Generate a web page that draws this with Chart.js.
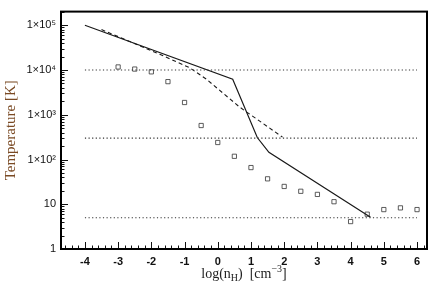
<!DOCTYPE html>
<html>
<head>
<meta charset="utf-8">
<script src="https://cdn.jsdelivr.net/npm/chart.js@4.4.1/dist/chart.umd.min.js"></script>
<style>
  html, body { margin: 0; padding: 0; background: #fff; }
  #wrap { width: 436px; height: 299px; position: relative; }
</style>
</head>
<body>
<div id="wrap"><canvas id="chart"></canvas></div>
<script>
// log(nH) vs temperature
const solidX = [-4, 0.45, 1.19, 1.54, 4.6];
const solidT = [1.0e5, 6.2e3, 310, 145, 5.1];

const dashedX = [-3.5, -1.75, -0.85, -0.35, 0.65, 1.95];
const dashedT = [8.0e4, 2.25e4, 1.13e4, 6.3e3, 1.5e3, 316];

const squareX = [-3, -2.5, -2, -1.5, -1, -0.5, 0, 0.5, 1, 1.5, 2, 2.5, 3, 3.5, 4, 4.5, 5, 5.5, 6];
const squareT = [11700, 10500, 9100, 5500, 1880, 575, 240, 118, 66, 37, 25, 19.5, 16.6, 11.4, 4.1, 6.0, 7.6, 8.3, 7.6];

const refLevels = [1e4, 300, 5];
const refRange = [-4, 6];

const xTicks = [-4, -3, -2, -1, 0, 1, 2, 3, 4, 5, 6];
const yTicks = [1, 10, 100, 1000, 10000, 100000];
const yTickLabels = ['1', '10', '1\u00d710\u00b2', '1\u00d710\u00b3', '1\u00d710\u2074', '1\u00d710\u2075'];

const INK = '#1a1a1a';
const pts = (xs, ys) => xs.map((x, i) => ({ x, y: ys[i] }));

const datasets = [];
refLevels.forEach(t => {
  datasets.push({
    data: refRange.map(x => ({ x, y: t })),
    borderColor: '#333',
    borderWidth: 1.1,
    borderDash: [1.2, 2.4],
    pointRadius: 0,
    showLine: true,
  });
});
datasets.push({
  data: pts(solidX, solidT),
  borderColor: INK,
  borderWidth: 1.2,
  pointRadius: 0,
  showLine: true,
});
datasets.push({
  data: pts(dashedX, dashedT),
  borderColor: INK,
  borderWidth: 1.1,
  borderDash: [4, 3],
  pointRadius: 0,
  showLine: true,
});
datasets.push({
  data: pts(squareX, squareT),
  pointStyle: 'rect',
  pointRadius: 3,
  pointBorderWidth: 0.8,
  pointBorderColor: '#333',
  pointBackgroundColor: 'rgba(0,0,0,0)',
  showLine: false,
});

// inward ticks, frame and the x title with sub/superscripts
const frame = {
  id: 'frame',
  afterDraw(chart) {
    const { ctx, chartArea: a, scales: { x, y } } = chart;
    ctx.save();
    ctx.strokeStyle = '#111';
    ctx.lineWidth = 1;
    // y ticks
    for (let d = 0; d <= 5; d++) {
      for (let m = 1; m <= 9; m++) {
        const v = m * Math.pow(10, d);
        if (v > y.max) break;
        const py = Math.round(y.getPixelForValue(v)) + 0.5;
        const len = m === 1 ? 7 : 3.5;
        ctx.beginPath();
        ctx.moveTo(a.left, py);
        ctx.lineTo(a.left + len, py);
        ctx.stroke();
      }
    }
    // x ticks
    for (let i = -24; i <= 31; i++) {
      const v = i / 5;
      if (v < x.min || v > x.max) continue;
      const px = Math.round(x.getPixelForValue(v)) + 0.5;
      const len = i % 5 === 0 ? 7 : 3.5;
      ctx.beginPath();
      ctx.moveTo(px, a.bottom);
      ctx.lineTo(px, a.bottom - len);
      ctx.stroke();
    }
    // frame
    ctx.lineWidth = 2;
    ctx.strokeStyle = '#000';
    ctx.strokeRect(a.left, a.top, a.right - a.left, a.bottom - a.top);

    // x axis title: log(n_H) [cm^-3]
    const parts = [
      { t: 'log(n', s: 14, dy: 0 },
      { t: 'H', s: 10, dy: 3 },
      { t: ')  [cm', s: 14, dy: 0 },
      { t: '\u22123', s: 10, dy: -6 },
      { t: ']', s: 14, dy: 0 },
    ];
    ctx.fillStyle = '#222';
    ctx.textBaseline = 'alphabetic';
    let w = 0;
    parts.forEach(p => { ctx.font = p.s + 'px "Liberation Serif", serif'; w += ctx.measureText(p.t).width; });
    let cx = (a.left + a.right) / 2 - w / 2;
    const base = 278;
    parts.forEach(p => {
      ctx.font = p.s + 'px "Liberation Serif", serif';
      ctx.fillText(p.t, cx, base + p.dy);
      cx += ctx.measureText(p.t).width;
    });
    ctx.restore();
  }
};

new Chart(document.getElementById('chart'), {
  type: 'scatter',
  data: { datasets },
  options: {
    responsive: true,
    maintainAspectRatio: false,
    animation: false,
    layout: { padding: { left: 0, right: 9, top: 6, bottom: 0 } },
    plugins: { legend: { display: false }, tooltip: { enabled: false } },
    scales: {
      x: {
        type: 'linear',
        min: -4.72,
        max: 6.3,
        afterBuildTicks: s => { s.ticks = xTicks.map(v => ({ value: v })); },
        afterFit: s => { s.height = 50; },
        grid: { display: false, drawTicks: false },
        border: { display: false },
        ticks: {
          color: '#111',
          padding: 6,
          font: { family: '"Liberation Sans", Arial, sans-serif', size: 11, weight: 'bold' },
          callback: v => String(v),
        },
      },
      y: {
        type: 'logarithmic',
        min: 1,
        max: 202000,
        afterBuildTicks: s => { s.ticks = yTicks.map(v => ({ value: v })); },
        afterFit: s => { s.width = 61; },
        grid: { display: false, drawTicks: false },
        border: { display: false },
        title: {
          display: true,
          text: 'Temperature [K]',
          color: '#7a4a24',
          font: { family: '"Liberation Serif", serif', size: 15 },
          padding: { top: 2, bottom: 0 },
        },
        ticks: {
          color: '#111',
          padding: 5,
          font: { family: '"Liberation Sans", "DejaVu Sans", sans-serif', size: 11 },
          callback: v => {
            const i = yTicks.indexOf(v);
            return i >= 0 ? yTickLabels[i] : '';
          },
        },
      },
    },
  },
  plugins: [frame],
});
</script>
</body>
</html>
